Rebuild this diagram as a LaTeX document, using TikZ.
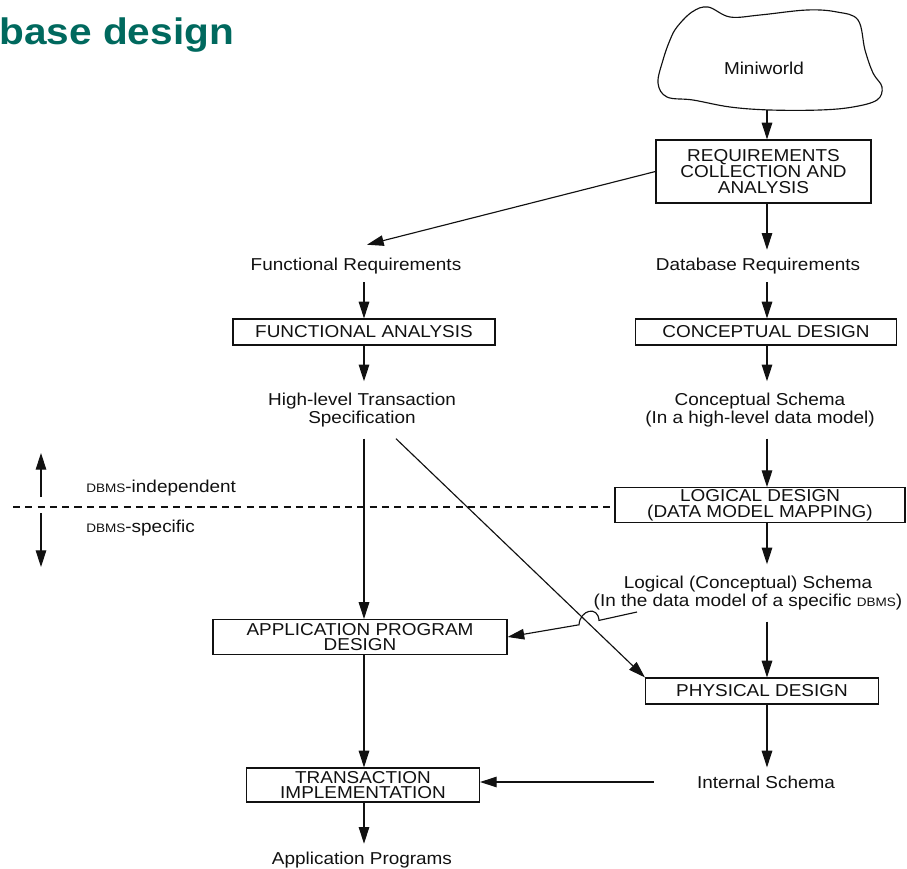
\documentclass[tikz,border=0pt]{standalone}
\usepackage{fontspec}
\setmainfont[FakeStretch=1.1]{Liberation Sans}
\usepackage{tikz}
\usetikzlibrary{positioning,arrows.meta,calc}
\definecolor{ink}{HTML}{111111}
\definecolor{teal}{HTML}{00695E}
\newcommand{\dbms}{{\fontsize{7}{8}\selectfont DBMS}}

\begin{document}
\begin{tikzpicture}[x=0.02cm, y=-0.02cm, >={Triangle[length=9.5pt,width=6pt]},
    box/.style={draw=ink, line width=0.65pt, align=center, inner sep=1pt, text=ink, font=\fontsize{9.8}{8.9}\selectfont},
    lbl/.style={align=center, inner sep=4.5pt, text=ink, font=\fontsize{9.8}{8.9}\selectfont},
    lbltwo/.style={lbl, inner ysep=6.5pt},
    arr/.style={->, draw=ink, line width=0.65pt}]
  \useasboundingbox (0,0) rectangle (907,869);
  \node[anchor=base west, inner sep=0, text=teal, font=\bfseries\fontsize{21}{22}\selectfont] (title) at (-1,44) {base design};

  % columns
  \coordinate (lcol) at (364,0);
  \coordinate (rcol) at (767,0);

  % miniworld cloud
  \draw[ink, line width=0.65pt] plot[smooth cycle, tension=0.6] coordinates {(677,27) (692,12) (708,7) (730,17) (760,15) (807,10) (837,12) (858,20) (865,50) (873,73) (882,87) (877,100) (853,107) (820,110) (770,110) (730,107) (693,100) (667,97) (658,83) (663,60) (670,40)};
  \node[lbl] (world) at (764,68) {Miniworld};
  \coordinate (cloudbot) at (767,110);

  \node[box, minimum width=4.3cm, minimum height=1.26cm] (req) at (763.5,171.5) {REQUIREMENTS\\COLLECTION AND\\ANALYSIS};
  \node[lbl] (freq) at (356,266) {Functional Requirements};
  \node[lbl] (dbreq) at (758,266) {Database Requirements};
  \node[box, minimum width=5.24cm, minimum height=0.52cm] (fana) at (364,332) {FUNCTIONAL ANALYSIS};
  \node[box, minimum width=5.22cm, minimum height=0.52cm] (cdes) at (766,332) {CONCEPTUAL DESIGN};
  \node[lbltwo] (hlt) at (362,410) {High-level Transaction\\Specification};
  \node[lbltwo] (csch) at (760,410) {Conceptual Schema\\(In a high-level data model)};
  \node[box, minimum width=5.8cm, minimum height=0.68cm] (ldes) at (760,505) {LOGICAL DESIGN\\(DATA MODEL MAPPING)};
  \node[lbltwo] (lsch) at (748,593) {Logical (Conceptual) Schema\\(In the data model of a specific \dbms)};
  \node[box, minimum width=5.88cm, minimum height=0.7cm] (adesign) at (360,637) {APPLICATION PROGRAM\\DESIGN};
  \node[box, minimum width=4.66cm, minimum height=0.52cm] (pdes) at (762,691) {PHYSICAL DESIGN};
  \node[lbl] (isch) at (766,782) {Internal Schema};
  \node[box, minimum width=4.66cm, minimum height=0.68cm] (timpl) at (363,785) {TRANSACTION\\IMPLEMENTATION};
  \node[lbl] (aprog) at (362,860) {Application Programs};

  % dbms side notes
  \node[lbl, anchor=west, inner sep=0] (indep) at (86,488) {\dbms-independent};
  \node[lbl, anchor=west, inner sep=0] (spec) at (86,528) {\dbms-specific};
  \coordinate (upbot) at (41,497);
  \coordinate (uptop) at (41,453);
  \coordinate (dnbot) at (41,567);
  \coordinate (dntop) at (41,513);
  \coordinate (dashl) at (13,507);
  \draw[arr] (upbot) -- (uptop);
  \draw[arr] (dntop) -- (dnbot);
  \draw[ink, line width=0.65pt, dash pattern=on 4pt off 3pt] (dashl) -- (dashl -| ldes.west);

  % right column
  \draw[arr] (cloudbot) -- (req.north -| rcol);
  \draw[arr] (req.south -| rcol) -- (dbreq.north -| rcol);
  \draw[arr] (dbreq.south -| rcol) -- (cdes.north -| rcol);
  \draw[arr] (cdes.south -| rcol) -- (csch.north -| rcol);
  \draw[arr] (csch.south -| rcol) -- (ldes.north -| rcol);
  \draw[arr] (ldes.south -| rcol) -- (lsch.north -| rcol);
  \draw[arr] (lsch.south -| rcol) -- (pdes.north -| rcol);
  \draw[arr] (pdes.south -| rcol) -- (isch.north -| rcol);

  % left column
  \draw[arr] (req.west) -- ($(freq.north)+(11,-5)$);
  \draw[arr] (freq.south -| lcol) -- (fana.north -| lcol);
  \draw[arr] (fana.south -| lcol) -- (hlt.north -| lcol);
  \draw[arr] (hlt.south -| lcol) -- (adesign.north -| lcol);
  \draw[arr] (adesign.south -| lcol) -- (timpl.north -| lcol);
  \draw[arr] (timpl.south -| lcol) -- (aprog.north -| lcol);

  % cross links
  \draw[arr] ($(hlt.south)+(34,0)$) -- (pdes.north west);
  \coordinate (lschout) at (637,612);
  \coordinate (hopa) at (599,620.4);
  \coordinate (hopb) at (579,624.8);
  \draw[arr] (lschout) -- (hopa) .. controls +(-1,-15) and +(1,-15) .. (hopb) -- (adesign.east);
  \draw[arr, shorten <=0.7cm] (isch.west) -- (isch.west -| timpl.east);
\end{tikzpicture}
\end{document}
